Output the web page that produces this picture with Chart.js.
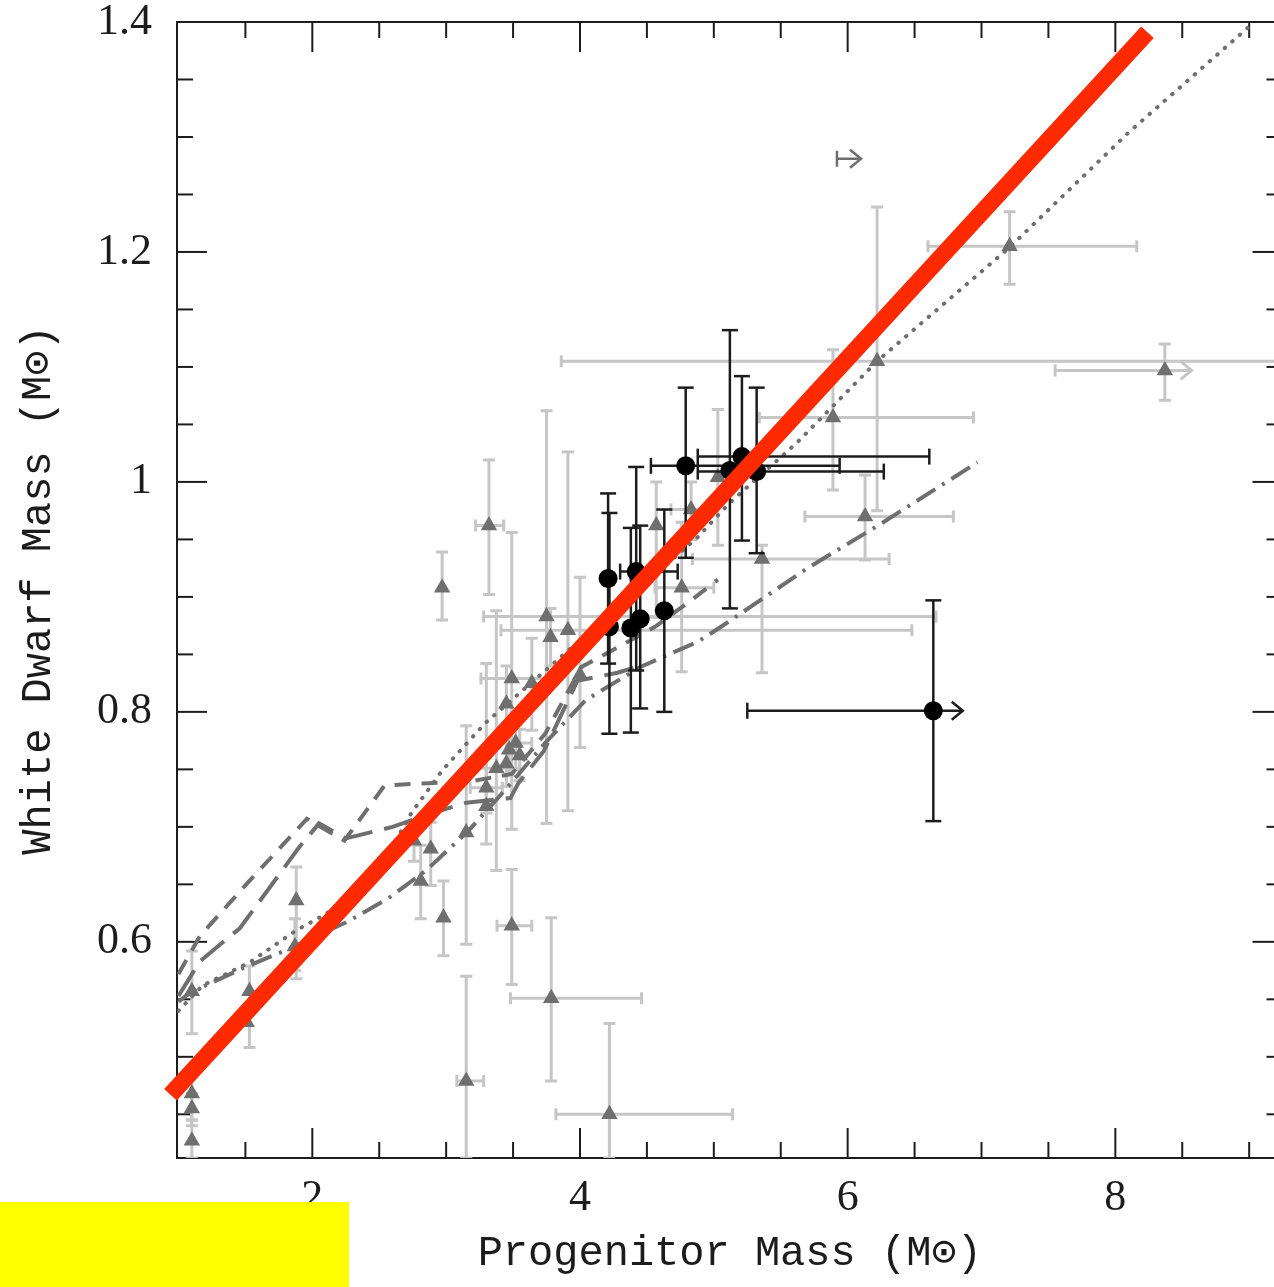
<!DOCTYPE html>
<html>
<head>
<meta charset="utf-8">
<script src="https://cdn.jsdelivr.net/npm/chart.js@4.4.0/dist/chart.umd.min.js"></script>
<style>
    html, body { margin: 0; padding: 0; background: #fff; overflow: hidden; }
    #wrap { position: relative; width: 1292px; height: 1287px; }
    #box { position: absolute; left: 0; top: 1202px; width: 349px; height: 85px; background: #ffff00; }
</style>
</head>
<body>
<div id="wrap"><canvas id="ifmr"></canvas><div id="box"></div></div>
<script>
// axis ticks
var xTicks = [1.5, 2, 2.5, 3, 3.5, 4, 4.5, 5, 5.5, 6, 6.5, 7, 7.5, 8, 8.5, 9];
var xLabels = [2, 4, 6, 8];
var yTicks = [0.45, 0.5, 0.55, 0.6, 0.65, 0.7, 0.75, 0.8, 0.85, 0.9, 0.95, 1, 1.05, 1.1, 1.15, 1.2, 1.25, 1.3, 1.35];
var yLabels = [0.6, 0.8, 1, 1.2, 1.4];

// white dwarfs from this work (filled circles)
var wdM0   = [4.21, 4.22, 4.42, 4.38, 4.45, 4.63, 4.79, 5.21, 5.12, 5.32, 6.64];
var wdMf   = [0.916, 0.874, 0.922, 0.873, 0.881, 0.888, 1.014, 1.022, 1.010, 1.009, 0.801];
var wdMfLo = [0.842, 0.781, 0.836, 0.782, 0.803, 0.800, 0.934, 0.949, 0.890, 0.938, 0.705];
var wdMfHi = [0.990, 0.973, 1.013, 0.960, 0.962, 0.976, 1.082, 1.092, 1.132, 1.082, 0.897];
var wdM0Lo = [null, null, 4.30, null, null, null, 4.53, 4.88, null, 4.88, 5.25];
var wdM0Hi = [null, null, 4.73, null, null, null, 5.94, 6.61, null, 6.27, 6.64];

// literature white dwarfs (triangles)
var litM0   = [7.21, 8.37, 6.22, 5.89, 6.13, 5.36, 5.03, 4.76, 4.57, 4.83, 2.97, 3.32, 3.75, 3.91, 3.78, 3.49, 3.64, 3.45, 4.00, 3.52, 3.47, 3.55, 3.375, 3.45, 3.30, 3.30, 3.15, 2.885, 2.76, 2.81, 2.98, 3.49, 3.15, 3.785, 4.22, 1.88, 1.87, 1.53, 1.51, 1.10, 1.10, 1.10, 1.10];
var litMf   = [1.205, 1.097, 1.105, 1.056, 0.970, 0.933, 1.004, 0.908, 0.962, 0.976, 0.908, 0.962, 0.883, 0.871, 0.865, 0.829, 0.825, 0.807, 0.832, 0.773, 0.767, 0.762, 0.751, 0.755, 0.734, 0.718, 0.695, 0.681, 0.688, 0.653, 0.621, 0.614, 0.479, 0.551, 0.450, 0.636, 0.596, 0.557, 0.530, 0.557, 0.468, 0.455, 0.427];
var litMfLo = [1.172, 1.071, 0.975, 0.993, 0.932, 0.834, 0.945, 0.835, 0.882, 0.950, 0.880, 0.902, 0.703, 0.714, 0.840, 0.698, 0.784, 0.780, 0.769, 0.750, 0.745, 0.740, 0.662, 0.735, 0.712, 0.685, 0.598, 0.649, 0.670, 0.620, 0.588, 0.563, 0.412, 0.479, 0.412, 0.568, 0.575, 0.508, null, 0.520, 0.445, 0.440, 0.412];
var litMfHi = [1.235, 1.120, 1.239, 1.115, 1.006, 0.945, 1.063, 0.965, 1.000, 1.000, 0.939, 1.019, 1.062, 1.026, 0.890, 0.956, 0.864, 0.840, 0.917, 0.800, 0.790, 0.785, 0.888, 0.775, 0.760, 0.842, 0.788, 0.704, 0.705, 0.684, 0.653, 0.663, 0.570, 0.621, 0.529, 0.665, 0.620, 0.579, null, 0.592, 0.490, 0.468, 0.445];
var litM0Lo = [6.60, 7.55, 3.86, 5.34, 5.68, 4.84, null, 4.56, null, 4.68, null, 3.22, 3.28, 3.41, null, 3.26, null, null, null, 3.40, null, null, 3.20, null, 3.18, null, null, null, null, null, null, 3.38, 3.08, 3.48, 3.82, null, null, null, null, null, null, null, null];
var litM0Hi = [8.16, 8.37, 9.50, 6.94, 6.79, 6.31, null, 5.00, null, 4.98, null, 3.43, 6.66, 6.48, null, 3.78, null, null, null, 3.64, null, null, 3.55, null, 3.42, null, null, null, null, null, null, 3.64, 3.28, 4.46, 5.14, null, null, null, null, null, null, null, null];

// lower limits on progenitor mass (arrows)
var limitFrom = [6.64, 5.92, 8.37];
var limitTo   = [6.86, 6.10, 8.57];
var limitMf   = [0.801, 1.281, 1.097];
var limitKind = ['wd', 'lit', 'litErr'];

// model relations
var dotM0 = [1.0, 1.18, 1.53, 1.88, 2.10, 2.33, 2.55, 2.74, 2.97, 3.29, 4.88, 5.12, 5.62, 6.22, 7.21, 8.10, 9.0];
var dotMf = [0.540, 0.562, 0.582, 0.610, 0.624, 0.647, 0.673, 0.712, 0.749, 0.790, 0.952, 0.982, 1.034, 1.105, 1.204, 1.304, 1.396];
var shortM0 = [1.0, 1.16, 1.53, 1.96, 2.24, 2.54, 2.87, 3.20, 3.49, 3.74, 4.01, 4.28, 4.56, 4.83, 5.03];
var shortMf = [0.572, 0.605, 0.653, 0.707, 0.688, 0.736, 0.738, 0.740, 0.746, 0.781, 0.839, 0.856, 0.874, 0.897, 0.915];
var longM0 = [1.0, 1.16, 1.46, 1.68, 1.90, 2.05, 2.25, 2.60, 2.90, 3.15, 3.48, 3.54, 3.73, 3.92, 3.98, 4.28, 4.45];
var longMf = [0.553, 0.583, 0.612, 0.647, 0.682, 0.703, 0.690, 0.700, 0.712, 0.721, 0.725, 0.738, 0.766, 0.812, 0.827, 0.834, 0.840];
var dashDotM0 = [1.0, 1.09, 1.48, 1.85, 2.27, 2.57, 2.85, 3.17, 3.44, 3.74, 4.04, 4.45, 4.88, 5.08, 5.70, 6.24, 6.97];
var dashDotMf = [0.548, 0.556, 0.577, 0.595, 0.618, 0.638, 0.662, 0.697, 0.732, 0.773, 0.810, 0.839, 0.861, 0.876, 0.925, 0.963, 1.017];

// linear fit
var fitM0 = [0.94, 8.24];
var fitMf = [0.467, 1.391];

var GRAY = '#6f6f6f';
var ERR_GRAY = '#c6c6c6';
var INK = '#1c1c1c';

function pts(xs, ys) {
    return xs.map(function (x, i) { return { x: x, y: ys[i] }; });
}

function seg(ctx, x1, y1, x2, y2) {
    ctx.beginPath();
    ctx.moveTo(x1, y1);
    ctx.lineTo(x2, y2);
    ctx.stroke();
}

function errorBars(chart, xs, ys, xlo, xhi, ylo, yhi, color, width, cap) {
    var ctx = chart.ctx, sx = chart.scales.x, sy = chart.scales.y;
    ctx.save();
    ctx.strokeStyle = color;
    ctx.lineWidth = width;
    for (var i = 0; i < xs.length; i++) {
        var px = sx.getPixelForValue(xs[i]), py = sy.getPixelForValue(ys[i]);
        if (ylo[i] != null) {
            var p1 = sy.getPixelForValue(ylo[i]), p2 = sy.getPixelForValue(yhi[i]);
            seg(ctx, px, p1, px, p2);
            seg(ctx, px - cap, p1, px + cap, p1);
            seg(ctx, px - cap, p2, px + cap, p2);
        }
        if (xlo[i] != null) {
            var q1 = sx.getPixelForValue(xlo[i]), q2 = sx.getPixelForValue(xhi[i]);
            seg(ctx, q1, py, q2, py);
            seg(ctx, q1, py - cap, q1, py + cap);
            if (xhi[i] !== xs[i]) seg(ctx, q2, py - cap, q2, py + cap);
        }
    }
    ctx.restore();
}

function limitArrows(chart, kind, color, width) {
    var ctx = chart.ctx, sx = chart.scales.x, sy = chart.scales.y;
    ctx.save();
    ctx.strokeStyle = color;
    ctx.lineWidth = width;
    for (var i = 0; i < limitFrom.length; i++) {
        if (limitKind[i] !== kind) continue;
        var a = sx.getPixelForValue(limitFrom[i]), b = sx.getPixelForValue(limitTo[i]);
        var py = sy.getPixelForValue(limitMf[i]);
        seg(ctx, a, py, b, py);
        if (kind === 'lit') seg(ctx, a, py - 8, a, py + 8);
        ctx.beginPath();
        ctx.moveTo(b - 11, py - 9);
        ctx.lineTo(b, py);
        ctx.lineTo(b - 11, py + 9);
        ctx.stroke();
    }
    ctx.restore();
}

var framePlugin = {
    id: 'frame',
    beforeDatasetsDraw: function (chart) {
        var ctx = chart.ctx, a = chart.chartArea;
        var sx = chart.scales.x, sy = chart.scales.y;
        ctx.save();
        ctx.strokeStyle = INK;
        ctx.lineWidth = 2;
        ctx.strokeRect(a.left, a.top, a.right - a.left, a.bottom - a.top);
        xTicks.forEach(function (v) {
            var px = sx.getPixelForValue(v);
            var len = xLabels.indexOf(v) >= 0 ? 30 : 16;
            seg(ctx, px, a.bottom, px, a.bottom - len);
            seg(ctx, px, a.top, px, a.top + len);
        });
        yTicks.forEach(function (v) {
            var py = sy.getPixelForValue(v);
            var major = yLabels.some(function (l) { return Math.abs(l - v) < 1e-6; });
            var len = major ? 30 : 16;
            seg(ctx, a.left, py, a.left + len, py);
            seg(ctx, a.right, py, a.right - len, py);
        });
        ctx.restore();

        ctx.save();
        ctx.beginPath();
        ctx.rect(a.left, a.top, a.right - a.left, a.bottom - a.top);
        ctx.clip();
        errorBars(chart, litM0, litMf, litM0Lo, litM0Hi, litMfLo, litMfHi, ERR_GRAY, 3, 6);
        limitArrows(chart, 'litErr', ERR_GRAY, 3);
        limitArrows(chart, 'lit', GRAY, 2.5);
        ctx.restore();
    },
    beforeDatasetDraw: function (chart, args) {
        if (chart.data.datasets[args.index].label !== 'This work') return;
        errorBars(chart, wdM0, wdMf, wdM0Lo, wdM0Hi, wdMfLo, wdMfHi, INK, 2.5, 8);
        limitArrows(chart, 'wd', INK, 2.5);
    }
};

function modelLine(xs, ys, dash, width, cap) {
    return {
        type: 'line',
        label: 'model',
        data: pts(xs, ys),
        borderColor: GRAY,
        borderWidth: width,
        borderDash: dash,
        borderCapStyle: cap,
        pointRadius: 0,
        fill: false,
        tension: 0,
        order: 4
    };
}

var ctx = document.getElementById('ifmr').getContext('2d');
var chart = new Chart(ctx, {
    type: 'scatter',
    data: {
        datasets: [
            {
                type: 'line',
                label: 'Fit',
                data: pts(fitM0, fitMf),
                borderColor: '#ff2a00',
                borderWidth: 17,
                borderCapStyle: 'butt',
                pointRadius: 0,
                fill: false,
                clip: false,
                order: 0
            },
            {
                label: 'This work',
                data: pts(wdM0, wdMf),
                pointStyle: 'circle',
                pointRadius: 9.5,
                backgroundColor: '#000',
                borderWidth: 0,
                order: 1
            },
            {
                label: 'Literature',
                data: pts(litM0, litMf),
                pointStyle: 'triangle',
                pointRadius: 9.5,
                backgroundColor: GRAY,
                borderWidth: 0,
                order: 2
            },
            modelLine(dotM0, dotMf, [0.5, 9.5], 4, 'round'),
            modelLine(shortM0, shortMf, [16, 11], 4, 'butt'),
            modelLine(longM0, longMf, [30, 12], 4, 'butt'),
            modelLine(dashDotM0, dashDotMf, [22, 8, 3, 8], 4, 'butt')
        ]
    },
    options: {
        responsive: true,
        maintainAspectRatio: false,
        animation: false,
        events: [],
        layout: { padding: { left: 0, top: 22, right: 4, bottom: 0 } },
        plugins: { legend: { display: false }, tooltip: { enabled: false } },
        scales: {
            x: {
                type: 'linear',
                min: 0.989,
                max: 9.249,
                afterFit: function (s) {
                    s.height = 129;
                    s.paddingLeft = 0;
                    s.paddingRight = 0;
                },
                afterBuildTicks: function (s) { s.ticks = xTicks.map(function (v) { return { value: v }; }); },
                grid: { display: false, drawTicks: false },
                border: { display: false },
                ticks: {
                    autoSkip: false,
                    maxRotation: 0,
                    padding: 14,
                    color: INK,
                    font: { family: "'Liberation Serif', serif", size: 44 },
                    callback: function (v) { return xLabels.indexOf(v) >= 0 ? String(v) : ''; }
                },
                title: {
                    display: true,
                    text: 'Progenitor Mass (M⊙)',
                    color: INK,
                    font: { family: "'Liberation Mono', 'DejaVu Sans Mono', monospace", size: 42 },
                    padding: { top: 0, bottom: 8 }
                }
            },
            y: {
                type: 'linear',
                min: 0.412,
                max: 1.4,
                afterFit: function (s) {
                    s.width = 177;
                    s.paddingTop = 0;
                    s.paddingBottom = 0;
                },
                afterBuildTicks: function (s) { s.ticks = yTicks.concat([1.4]).map(function (v) { return { value: v }; }); },
                grid: { display: false, drawTicks: false },
                border: { display: false },
                ticks: {
                    autoSkip: false,
                    padding: 25,
                    color: INK,
                    font: { family: "'Liberation Serif', serif", size: 44 },
                    callback: function (v) {
                        var hit = yLabels.filter(function (l) { return Math.abs(l - v) < 1e-6; });
                        return hit.length ? String(hit[0]) : '';
                    }
                },
                title: {
                    display: true,
                    text: 'White Dwarf Mass (M⊙)',
                    color: INK,
                    font: { family: "'Liberation Mono', 'DejaVu Sans Mono', monospace", size: 42 },
                    padding: { top: 14, bottom: 0 }
                }
            }
        }
    },
    plugins: [framePlugin]
});
</script>
</body>
</html>
